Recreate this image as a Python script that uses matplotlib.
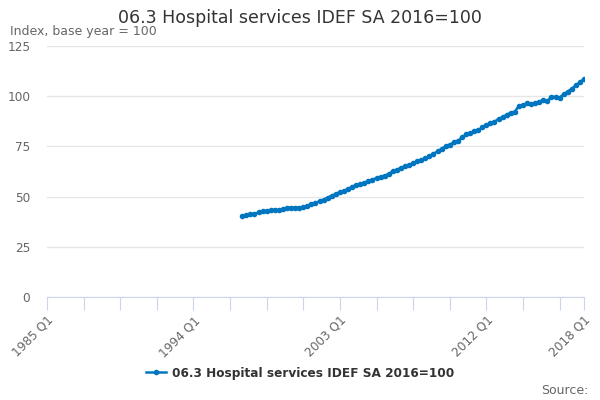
import matplotlib
matplotlib.use("Agg")
import matplotlib.pyplot as plt

title = "06.3 Hospital services IDEF SA 2016=100"
y_label = "Index, base year = 100"
series_name = "06.3 Hospital services IDEF SA 2016=100"

first_year = 1997
values = [
    40.4, 40.9, 41.2, 41.4, 42.1, 42.7, 42.9, 43.2, 43.4, 43.2,
    43.7, 44.5, 44.5, 44.4, 44.5, 44.9, 45.4, 46.2, 46.9, 47.7,
    48.5, 49.5, 50.5, 51.3, 52.2, 52.9, 53.7, 55.0, 55.7, 56.3,
    56.9, 57.6, 58.4, 59.2, 59.9, 60.5, 61.2, 62.6, 63.4, 64.3,
    65.0, 65.8, 66.6, 67.5, 68.3, 69.2, 70.2, 71.2, 72.6, 73.8,
    75.0, 75.9, 77.0, 77.7, 79.5, 81.0, 81.7, 82.6, 83.0, 84.5,
    85.8, 86.6, 87.3, 88.7, 89.6, 90.8, 91.8, 92.3, 95.2, 95.6,
    96.4, 96.0, 96.7, 97.3, 98.0, 97.6, 99.7, 99.7, 99.3, 101.0,
    102.3, 103.8, 105.4, 107.0, 108.6,
]

# ticks every 9 quarters from 1985 Q1, plus the last quarter
tick_pos = [1985 + 2.25 * k for k in range(15)] + [2018]
label_years = [1985, 1994, 2003, 2012, 2018]
y_ticks = [0, 25, 50, 75, 100, 125]

# quarter positions as decimal years
x = [first_year + i / 4 for i in range(len(values))]

fig = plt.figure(figsize=(6, 4), dpi=100)
ax = fig.add_axes([47 / 600, 1 - 297 / 400, (584 - 47) / 600, (297 - 46) / 400])

ax.plot(x, values, color="#0076c0", lw=1.8, marker="o", ms=3.0,
        label=series_name, zorder=3)

ax.set_xlim(1985, 2018)
ax.set_ylim(0, 125)
ax.set_yticks(y_ticks)
ax.set_xticks(tick_pos)
ax.set_xticklabels([f"{int(p)} Q1" if p in label_years else "" for p in tick_pos],
                   rotation=45, ha="right", rotation_mode="anchor")

ax.grid(axis="y", color="#e6e6e6", lw=1)
ax.set_axisbelow(True)
for s in ["top", "right", "left"]:
    ax.spines[s].set_visible(False)
ax.spines["bottom"].set_color("#ccd6eb")
ax.tick_params(axis="x", length=9, color="#ccd6eb", labelsize=8.7,
               labelcolor="#666666", pad=3)
ax.tick_params(axis="y", length=0, labelsize=8.7, labelcolor="#666666", pad=12)

fig.text(0.5, 1 - 18 / 400, title, ha="center", va="center",
         fontsize=12.5, color="#333333")
fig.text(10 / 600, 1 - 31 / 400, y_label, ha="left", va="center",
         fontsize=9, color="#666666")

leg = fig.legend(loc="center", bbox_to_anchor=(0.5, 1 - 373 / 400), frameon=False,
                 prop={"weight": "bold", "size": 8.7}, handlelength=1.6,
                 handletextpad=0.5)
for t in leg.get_texts():
    t.set_color("#333333")

fig.text(588 / 600, 1 - 390 / 400, "Source:", ha="right", va="center",
         fontsize=9, color="#666666")

fig.savefig("out.png", dpi=100)
